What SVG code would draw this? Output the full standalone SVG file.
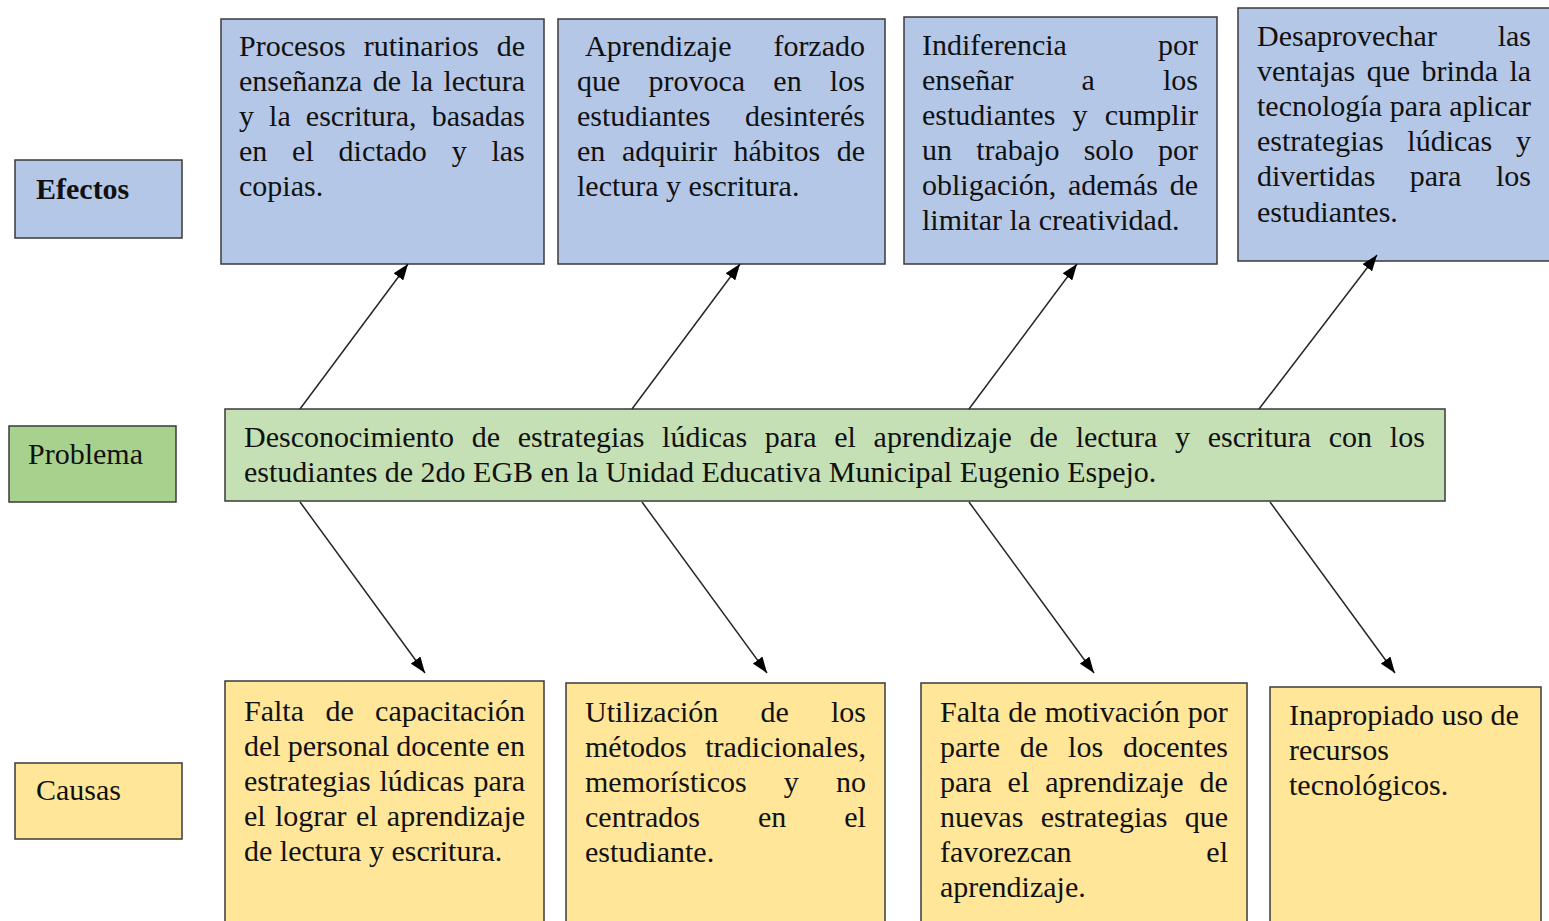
<svg xmlns="http://www.w3.org/2000/svg" width="1549" height="921" viewBox="0 0 1549 921">
<style>
.box{stroke:#3a3a3a;stroke-width:1.5}
.blue{fill:#b4c7e7}
.lgreen{fill:#c5e0b4}
.green{fill:#a9d18e}
.yellow{fill:#ffe699}
.t{font-family:"Liberation Serif","Times New Roman",serif;font-size:30px;fill:#111}
.b{font-weight:bold}
.conn{stroke:#262626;stroke-width:1.5;fill:none;marker-end:url(#arr)}
</style>
<defs>
<marker id="arr" markerUnits="userSpaceOnUse" markerWidth="16" markerHeight="12" refX="16" refY="6" orient="auto">
<path d="M0,0 L16,6 L0,12 z" fill="#000"/>
</marker>
</defs>
<rect width="1549" height="921" fill="#fff"/>

<g id="label-efectos">
<rect class="box blue" x="15" y="160" width="167" height="78"/>
<text class="t b" x="36" y="199">Efectos</text>
</g>
<g id="label-problema">
<rect class="box green" x="9" y="426" width="167" height="76"/>
<text class="t" x="28" y="464">Problema</text>
</g>
<g id="label-causas">
<rect class="box yellow" x="15" y="763" width="167" height="76"/>
<text class="t" x="36" y="800">Causas</text>
</g>

<g id="efecto1">
<rect class="box blue" x="221" y="19" width="323" height="245"/>
<text class="t">
<tspan x="239" y="56" word-spacing="10.5">Procesos rutinarios de</tspan>
<tspan x="239" y="91" word-spacing="2.9">enseñanza de la lectura</tspan>
<tspan x="239" y="126" word-spacing="7.6">y la escritura, basadas</tspan>
<tspan x="239" y="161" word-spacing="17.3">en el dictado y las</tspan>
<tspan x="239" y="196">copias.</tspan>
</text>
</g>
<g id="efecto2">
<rect class="box blue" x="558" y="19" width="327" height="245"/>
<text class="t">
<tspan x="585" y="56" word-spacing="34.3">Aprendizaje forzado</tspan>
<tspan x="577" y="91" word-spacing="20.7">que provoca en los</tspan>
<tspan x="577" y="126" word-spacing="27.2">estudiantes desinterés</tspan>
<tspan x="577" y="161" word-spacing="9.1">en adquirir hábitos de</tspan>
<tspan x="577" y="196">lectura y escritura.</tspan>
</text>
</g>
<g id="efecto3">
<rect class="box blue" x="904" y="17" width="313" height="247"/>
<text class="t">
<tspan x="922" y="55" word-spacing="83.6">Indiferencia por</tspan>
<tspan x="922" y="90" word-spacing="60.5">enseñar a los</tspan>
<tspan x="922" y="125" word-spacing="9.7">estudiantes y cumplir</tspan>
<tspan x="922" y="160" word-spacing="16.7">un trabajo solo por</tspan>
<tspan x="922" y="195" word-spacing="4.3">obligación, además de</tspan>
<tspan x="922" y="230">limitar la creatividad.</tspan>
</text>
</g>
<g id="efecto4">
<rect class="box blue" x="1238" y="8" width="330" height="253"/>
<text class="t">
<tspan x="1257" y="46" word-spacing="53.3">Desaprovechar las</tspan>
<tspan x="1257" y="81" word-spacing="3.9">ventajas que brinda la</tspan>
<tspan x="1257" y="116" word-spacing="0.4">tecnología para aplicar</tspan>
<tspan x="1257" y="151" word-spacing="16.2">estrategias lúdicas y</tspan>
<tspan x="1257" y="186" word-spacing="27">divertidas para los</tspan>
<tspan x="1257" y="222">estudiantes.</tspan>
</text>
</g>

<g id="problema">
<rect class="box lgreen" x="225" y="409" width="1220" height="92"/>
<text class="t">
<tspan x="244" y="447" word-spacing="10.25">Desconocimiento de estrategias lúdicas para el aprendizaje de lectura y escritura con los</tspan>
<tspan x="244" y="482">estudiantes de 2do EGB en la Unidad Educativa Municipal Eugenio Espejo.</tspan>
</text>
</g>

<g id="causa1">
<rect class="box yellow" x="225" y="681" width="319" height="260"/>
<text class="t">
<tspan x="244" y="721" word-spacing="13.9">Falta de capacitación</tspan>
<tspan x="244" y="756" word-spacing="-0.5">del personal docente en</tspan>
<tspan x="244" y="791" word-spacing="1.4">estrategias lúdicas para</tspan>
<tspan x="244" y="826" word-spacing="1.8">el lograr el aprendizaje</tspan>
<tspan x="244" y="861">de lectura y escritura.</tspan>
</text>
</g>
<g id="causa2">
<rect class="box yellow" x="566" y="683" width="319" height="260"/>
<text class="t">
<tspan x="585" y="722" word-spacing="34.7">Utilización de los</tspan>
<tspan x="585" y="757" word-spacing="11">métodos tradicionales,</tspan>
<tspan x="585" y="792" word-spacing="29.7">memorísticos y no</tspan>
<tspan x="585" y="827" word-spacing="50.5">centrados en el</tspan>
<tspan x="585" y="862">estudiante.</tspan>
</text>
</g>
<g id="causa3">
<rect class="box yellow" x="921" y="683" width="326" height="260"/>
<text class="t">
<tspan x="940" y="722" word-spacing="0.7">Falta de motivación por</tspan>
<tspan x="940" y="757" word-spacing="12.4">parte de los docentes</tspan>
<tspan x="940" y="792" word-spacing="8.5">para el aprendizaje de</tspan>
<tspan x="940" y="827" word-spacing="9.9">nuevas estrategias que</tspan>
<tspan x="940" y="862" word-spacing="127.3">favorezcan el</tspan>
<tspan x="940" y="897">aprendizaje.</tspan>
</text>
</g>
<g id="causa4">
<rect class="box yellow" x="1270" y="687" width="271" height="260"/>
<text class="t">
<tspan x="1289" y="725">Inapropiado uso de</tspan>
<tspan x="1289" y="760">recursos</tspan>
<tspan x="1289" y="795">tecnológicos.</tspan>
</text>
</g>

<g id="connectors">
<line class="conn" x1="300" y1="409" x2="408" y2="264"/>
<line class="conn" x1="632" y1="409" x2="740" y2="264"/>
<line class="conn" x1="969" y1="409" x2="1077" y2="264"/>
<line class="conn" x1="1259" y1="409" x2="1377" y2="255"/>
<line class="conn" x1="300" y1="502" x2="425" y2="673"/>
<line class="conn" x1="642" y1="502" x2="767" y2="673"/>
<line class="conn" x1="969" y1="502" x2="1094" y2="673"/>
<line class="conn" x1="1270" y1="502" x2="1395" y2="673"/>
</g>
</svg>
